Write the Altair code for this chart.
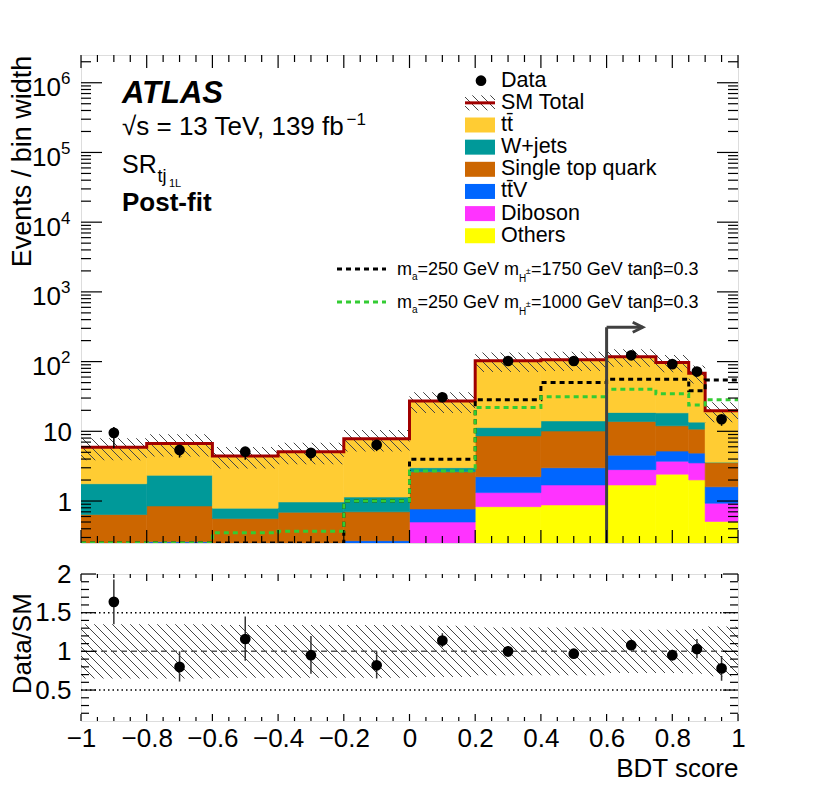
import math
import altair as alt
import pandas as pd

FONT = "Liberation Sans"

# ---------------- data ----------------
EDGES = [-1.0, -0.8, -0.6, -0.4, -0.2, 0.0, 0.2, 0.4, 0.6, 0.75, 0.85, 0.9, 1.0]
CENTERS = [-0.9, -0.7, -0.5, -0.3, -0.1, 0.1, 0.3, 0.5, 0.675, 0.8, 0.875, 0.95]

# background components (events / bin width), stacked bottom -> top
OTHERS  = [0.04, 0.05, 0.04, 0.04, 0.05, 0.15, 0.83, 0.88, 1.70, 2.43, 2.01, 0.51]
DIBOSON = [0.04, 0.05, 0.04, 0.04, 0.07, 0.35, 0.49, 0.82, 1.12, 1.29, 1.51, 0.42]
TTV     = [0.07, 0.16, 0.07, 0.07, 0.15, 0.27, 0.91, 1.30, 1.73, 1.48, 1.35, 0.67]
SINGLE  = [0.49, 0.59, 0.41, 0.54, 0.43, 1.86, 6.37, 7.10, 9.25, 6.80, 5.88, 1.95]
WJETS   = [1.13, 1.49, 0.23, 0.28, 0.44, 0.37, 2.70, 4.00, 4.80, 6.40, 2.80, 0.05]
TTBAR   = [4.13, 4.36, 3.64, 4.13, 6.66, 24.3, 91.7, 91.9, 98.4, 79.0, 54.5, 16.2]

SIG_1750 = [0.2, 0.2, 0.2, 0.2, 1.0, 3.96, 28.3, 50.0, 56.0, 56.0, 38.2, 54.5]
SIG_1000 = [0.2, 0.2, 0.35, 0.37, 1.0, 2.7, 21.9, 31.4, 40.0, 34.5, 23.9, 28.3]

DATA    = [9.5, 5.4, 5.1, 4.9, 6.4, 30.8, 102, 102, 123, 92, 72, 14.9]
DATA_LO = [5.7, 4.2, 3.9, 3.8, 5.2, 27.0, 95, 95, 115, 84, 63, 12.0]
DATA_HI = [11.5, 6.2, 5.9, 5.7, 7.4, 34.0, 108, 108, 130, 98, 79, 17.0]

REL_UNC = [0.35, 0.35, 0.34, 0.34, 0.34, 0.33, 0.31, 0.31, 0.28, 0.28, 0.29, 0.32]

RATIO    = [1.64, 0.80, 1.16, 0.95, 0.82, 1.14, 1.00, 0.97, 1.08, 0.95, 1.03, 0.78]
RATIO_LO = [1.35, 0.61, 0.88, 0.71, 0.65, 1.055, 0.93, 0.91, 1.01, 0.88, 0.91, 0.62]
RATIO_HI = [1.93, 1.00, 1.45, 1.20, 1.00, 1.235, 1.07, 1.03, 1.15, 1.02, 1.16, 0.94]

ARROW_X = [0.6, 0.71]
ARROW_Y = 311

PROCS = ["Others", "Diboson", "ttV", "Single top quark", "W+jets", "ttbar"]
PROC_VALS = [OTHERS, DIBOSON, TTV, SINGLE, WJETS, TTBAR]
PROC_COLORS = ["#ffff00", "#ff33ff", "#0066ff", "#cc6600", "#009999", "#ffcc33"]

LEGEND_LABELS = ["tt\u0304", "W+jets", "Single top quark", "tt\u0304V", "Diboson", "Others"]
LEGEND_COLORS = ["#ffcc33", "#009999", "#cc6600", "#0066ff", "#ff33ff", "#ffff00"]

X_MAJOR = [-1.0, -0.8, -0.6, -0.4, -0.2, 0.0, 0.2, 0.4, 0.6, 0.8, 1.0]

# ---------------- layout constants ----------------
W = 657
H_MAIN = 488
H_RAT = 147
Y_MIN, Y_MAX = 0.25, 2.5e6
R_MIN, R_MAX = 0.1, 2.0
TITLE_X = -50

xs = alt.Scale(domain=[-1, 1], nice=False, zero=False)
ys = alt.Scale(type="log", domain=[Y_MIN, Y_MAX], nice=False, clamp=True)
rs = alt.Scale(domain=[R_MIN, R_MAX], nice=False, zero=False)


def py_main(v):
    v = max(v, Y_MIN)
    return H_MAIN * (math.log10(Y_MAX) - math.log10(v)) / (math.log10(Y_MAX) - math.log10(Y_MIN))


def py_rat(v):
    return H_RAT * (R_MAX - v) / (R_MAX - R_MIN)


def hatch(w, h, period=9.0, lw=1.0, rgb=(70, 70, 70)):
    """diagonal '\\' hatch as a linear gradient in bounding-box units"""
    L = w + h
    k = L / (w * w + h * h)
    tr = "rgba(%d,%d,%d,0)" % rgb
    col = "rgba(%d,%d,%d,1)" % rgb
    wid = lw * math.sqrt(2)
    stops = []
    u = period / 2
    while u < L:
        a = max(0.0, (u - wid / 2) / L)
        b = min(1.0, (u + wid / 2) / L)
        stops += [(a, tr), (a, col), (b, col), (b, tr)]
        u += period
    return {"gradient": "linear", "x1": 0, "y1": 1, "x2": w * k, "y2": 1 - h * k,
            "stops": [{"offset": o, "color": c} for o, c in stops]}


AW = {" ": 278, "=": 584, ",": 278, ".": 278, "T": 611, "e": 556, "V": 667, "f": 278,
      "b": 556, "s": 500, "\u221a": 549, "G": 778, "m": 833, "a": 556, "t": 278, "n": 556,
      "\u03b2": 575, "H": 722, "\u00b1": 584, "\u2212": 584, "j": 222, "S": 667, "R": 722,
      "L": 556}


def tw(s, size):
    return sum(AW.get(c, 556) for c in s) * size / 1000.0


def txt(s, x, y, size, weight="normal", style="normal", align="left",
        baseline="alphabetic", angle=0, color="black"):
    return alt.Chart(alt.Data(values=[{"t": s}])).mark_text(
        font=FONT, fontSize=size, fontWeight=weight, fontStyle=style, align=align,
        baseline=baseline, angle=angle, color=color
    ).encode(x=alt.value(x), y=alt.value(y), text="t:N")


def rich(segs, x0, y0):
    out = []
    x = x0
    for s, size, dy, dx in segs:
        x += dx
        out.append(txt(s, x, y0 + dy, size))
        x += tw(s, size)
    return out


def yticks(vals, length, scale, axis, stroke=1.2):
    df = pd.DataFrame({"v": vals})
    base = alt.Chart(df).mark_rule(color="black", strokeWidth=stroke)
    return [
        base.encode(y=alt.Y("v:Q", scale=scale, axis=axis), x=alt.value(0), x2=alt.value(length)),
        base.encode(y=alt.Y("v:Q", scale=scale, axis=axis), x=alt.value(W), x2=alt.value(W - length)),
    ]


def xticks(vals, length, h, scale, axis, stroke=1.2):
    df = pd.DataFrame({"v": vals})
    base = alt.Chart(df).mark_rule(color="black", strokeWidth=stroke)
    return [
        base.encode(x=alt.X("v:Q", scale=scale, axis=axis), y=alt.value(h), y2=alt.value(h - length)),
        base.encode(x=alt.X("v:Q", scale=scale, axis=axis), y=alt.value(0), y2=alt.value(length)),
    ]


# ---------------- tables ----------------
rows = []
cum = [0.0] * len(CENTERS)
for name, vals in zip(PROCS, PROC_VALS):
    for i in range(len(CENTERS)):
        lo = cum[i]
        hi = cum[i] + vals[i]
        rows.append({"x0": EDGES[i], "x1": EDGES[i + 1], "lo": max(lo, 0.01), "hi": hi, "proc": name})
        cum[i] = hi
stack_df = pd.DataFrame(rows)
SM = cum[:]

sm_df = pd.DataFrame({"x": EDGES, "y": SM + [SM[-1]]})
band_lo = [s * (1 - r) for s, r in zip(SM, REL_UNC)]
band_hi = [s * (1 + r) for s, r in zip(SM, REL_UNC)]
band_df = pd.DataFrame({"x": EDGES, "lo": band_lo + [band_lo[-1]], "hi": band_hi + [band_hi[-1]]})
sig1_df = pd.DataFrame({"x": EDGES, "y": SIG_1750 + [SIG_1750[-1]]})
sig2_df = pd.DataFrame({"x": EDGES, "y": SIG_1000 + [SIG_1000[-1]]})
data_df = pd.DataFrame({"x": CENTERS, "y": DATA, "lo": DATA_LO, "hi": DATA_HI})

r_lo = [1 - r for r in REL_UNC]
r_hi = [1 + r for r in REL_UNC]
rband_df = pd.DataFrame({"x": EDGES, "lo": r_lo + [r_lo[-1]], "hi": r_hi + [r_hi[-1]]})
ratio_df = pd.DataFrame({"x": CENTERS, "y": RATIO, "lo": RATIO_LO, "hi": RATIO_HI})

main_band_h = max(py_main(v) for v in band_lo) - min(py_main(v) for v in band_hi)
rat_band_h = max(py_rat(v) for v in r_lo) - min(py_rat(v) for v in r_hi)

cs = alt.Scale(domain=PROCS, range=PROC_COLORS)

# ---------------- main panel ----------------
X = lambda f: alt.X(f, scale=xs, axis=None)
Y = lambda f: alt.Y(f, scale=ys, axis=None)

layers = []
layers.append(alt.Chart(stack_df).mark_rect(clip=True, strokeWidth=0.6).encode(
    x=X("x0:Q"), x2="x1:Q", y=Y("hi:Q"), y2="lo:Q",
    color=alt.Color("proc:N", scale=cs, legend=None),
    stroke=alt.Stroke("proc:N", scale=cs, legend=None)))
layers.append(alt.Chart(band_df).mark_area(interpolate="step-after", clip=True,
                                           fill=hatch(W, main_band_h)).encode(
    x=X("x:Q"), y=Y("lo:Q"), y2="hi:Q"))
layers.append(alt.Chart(sm_df).mark_line(interpolate="step-after", clip=True, color="#a00000",
                                         strokeWidth=3).encode(x=X("x:Q"), y=Y("y:Q")))
layers.append(alt.Chart(sig1_df).mark_line(interpolate="step-after", clip=True, color="black",
                                           strokeWidth=3, strokeDash=[5, 4]).encode(x=X("x:Q"), y=Y("y:Q")))
layers.append(alt.Chart(sig2_df).mark_line(interpolate="step-after", clip=True, color="#33cc33",
                                           strokeWidth=3, strokeDash=[5, 4]).encode(x=X("x:Q"), y=Y("y:Q")))
arrow_v = pd.DataFrame({"x": [ARROW_X[0]], "y": [Y_MIN], "y2": [ARROW_Y]})
arrow_h = pd.DataFrame({"x": [ARROW_X[0]], "x2": [ARROW_X[1]], "y": [ARROW_Y]})
arrow_p = pd.DataFrame({"x": [ARROW_X[1]], "y": [ARROW_Y]})
layers.append(alt.Chart(arrow_v).mark_rule(color="#404040", strokeWidth=3).encode(
    x=X("x:Q"), y=Y("y:Q"), y2="y2:Q"))
layers.append(alt.Chart(arrow_h).mark_rule(color="#404040", strokeWidth=3).encode(
    x=X("x:Q"), x2="x2:Q", y=Y("y:Q")))
layers.append(alt.Chart(arrow_p).mark_point(shape="M-1,-0.5L0,0L-1,0.5", filled=False, size=400,
                                            strokeWidth=3, color="#404040", opacity=1).encode(
    x=X("x:Q"), y=Y("y:Q")))
layers.append(alt.Chart(data_df).mark_rule(color="black", strokeWidth=1.5).encode(
    x=X("x:Q"), y=Y("lo:Q"), y2="hi:Q"))
layers.append(alt.Chart(data_df).mark_point(filled=True, shape="circle", size=115, color="black",
                                            opacity=1).encode(x=X("x:Q"), y=Y("y:Q")))

# ticks
y_major = [1, 10, 1e2, 1e3, 1e4, 1e5, 1e6]
y_minor = [m * 10 ** k for k in range(-1, 7) for m in range(2, 10) if Y_MIN < m * 10 ** k < Y_MAX]
x_minor = [round(-1 + 0.05 * k, 2) for k in range(41)]
x_minor = [v for v in x_minor if all(abs(v - m) > 1e-6 for m in X_MAJOR)]
layers += yticks(y_major, 21, ys, None)
layers += yticks(y_minor, 10, ys, None)
layers += xticks(X_MAJOR, 13, H_MAIN, xs, None)
layers += xticks(x_minor, 7, H_MAIN, xs, None)

# y tick labels
dec_plain = pd.DataFrame({"v": [1, 10], "t": ["1", "10"]})
dec_pow = pd.DataFrame({"v": [1e2, 1e3, 1e4, 1e5, 1e6], "b": ["10"] * 5, "e": ["2", "3", "4", "5", "6"]})
layers.append(alt.Chart(dec_plain).mark_text(font=FONT, fontSize=26, align="right", baseline="middle",
                                             dy=1.5).encode(x=alt.value(-9), y=Y("v:Q"), text="t:N"))
layers.append(alt.Chart(dec_pow).mark_text(font=FONT, fontSize=26, align="right", baseline="middle",
                                           dy=5.5).encode(x=alt.value(-20), y=Y("v:Q"), text="b:N"))
layers.append(alt.Chart(dec_pow).mark_text(font=FONT, fontSize=17, align="left", baseline="middle",
                                           dy=-3.5).encode(x=alt.value(-20), y=Y("v:Q"), text="e:N"))
layers.append(txt("Events / bin width", TITLE_X, 106.5, 27, align="center", angle=270))

# legend
rows_y = [25.7 + 22.15 * i for i in range(8)]
BX0, BX1, TX = 384, 414, 420
layers.append(alt.Chart(alt.Data(values=[{}])).mark_point(filled=True, shape="circle", size=115,
                                                         color="black", opacity=1).encode(
    x=alt.value(400), y=alt.value(rows_y[0])))
layers.append(txt("Data", TX, rows_y[0], 21.5, baseline="middle"))
layers.append(alt.Chart(alt.Data(values=[{}])).mark_rect(fill=hatch(30, 15)).encode(
    x=alt.value(BX0), x2=alt.value(BX1), y=alt.value(rows_y[1] - 7.5), y2=alt.value(rows_y[1] + 7.5)))
layers.append(alt.Chart(alt.Data(values=[{}])).mark_rule(color="#a00000", strokeWidth=3).encode(
    x=alt.value(BX0), x2=alt.value(BX1), y=alt.value(rows_y[1])))
layers.append(txt("SM Total", TX, rows_y[1], 21.5, baseline="middle"))
for lab, col, yy in zip(LEGEND_LABELS, LEGEND_COLORS, rows_y[2:]):
    layers.append(alt.Chart(alt.Data(values=[{}])).mark_rect(color=col).encode(
        x=alt.value(BX0), x2=alt.value(BX1), y=alt.value(yy - 7.5), y2=alt.value(yy + 7.5)))
    layers.append(txt(lab, TX, yy, 21.5, baseline="middle"))

for yy, col, mh in [(214, "black", "1750"), (247, "#33cc33", "1000")]:
    layers.append(alt.Chart(alt.Data(values=[{}])).mark_rule(color=col, strokeWidth=3,
                                                            strokeDash=[5, 4]).encode(
        x=alt.value(256), x2=alt.value(305), y=alt.value(yy)))
    layers += rich([("m", 18, 0, 0), ("a", 10, 5, 0), ("=250 GeV m", 18, 0, 0), ("H", 10, 7, 0),
                    ("\u00b1", 9, -1, -0.5), ("=" + mh + " GeV tan\u03b2=0.3", 18, 0, 0)], 316, yy + 6)

# ATLAS labels
layers.append(txt("ATLAS", 41, 48.3, 31, weight="bold", style="italic"))
layers += rich([("\u221as = 13 TeV, 139 fb", 26, 0, 0), ("\u22121", 17, -10, -3)], 41, 80)
layers.append(txt("SR", 41, 118.3, 25))
layers.append(txt("tj", 76.5, 126.5, 18))
layers.append(txt("1L", 88, 131.5, 11))
layers.append(txt("Post-fit", 41, 156, 26, weight="bold"))

main = alt.layer(*layers).properties(width=W, height=H_MAIN)

# ---------------- ratio panel ----------------
x_axis = alt.Axis(values=X_MAJOR, labelExpr="replace(format(datum.value, '.1~f'), '-', '\u2212')",
                  labelFont=FONT, labelFontSize=26, labelColor="black", labelPadding=4,
                  labelFlush=False, labelOverlap=False, ticks=False, tickSize=0, domain=False,
                  grid=False, title="BDT score", titleFont=FONT, titleFontSize=26,
                  titleFontWeight="normal", titleColor="black", titleAnchor="end",
                  titlePadding=4)
r_axis = alt.Axis(values=[0.5, 1, 1.5, 2], format="~g", labelFont=FONT, labelFontSize=26,
                  labelColor="black", labelPadding=10, labelFlush=False, labelOverlap=False,
                  ticks=False, tickSize=0, domain=False, grid=False, title=None)
RX = lambda f: alt.X(f, scale=xs, axis=x_axis)
RY = lambda f: alt.Y(f, scale=rs, axis=r_axis)

rl = []
rl.append(alt.Chart(rband_df).mark_area(interpolate="step-after", clip=True,
                                        fill=hatch(W, rat_band_h)).encode(
    x=RX("x:Q"), y=RY("lo:Q"), y2="hi:Q"))
rl.append(alt.Chart(pd.DataFrame({"v": [1.0]})).mark_rule(color="#555555", strokeWidth=1.5,
                                                          strokeDash=[6, 4]).encode(
    y=RY("v:Q"), x=alt.value(0), x2=alt.value(W)))
rl.append(alt.Chart(pd.DataFrame({"v": [0.5, 1.5]})).mark_rule(color="black", strokeWidth=1.5,
                                                               strokeDash=[1.5, 3]).encode(
    y=RY("v:Q"), x=alt.value(0), x2=alt.value(W)))
rl.append(alt.Chart(ratio_df).mark_rule(color="#333333", strokeWidth=1.5).encode(
    x=RX("x:Q"), y=RY("lo:Q"), y2="hi:Q"))
rl.append(alt.Chart(ratio_df).mark_point(filled=True, shape="circle", size=115, color="black",
                                         opacity=1).encode(x=RX("x:Q"), y=RY("y:Q")))
r_major = [0.5, 1.0, 1.5, 2.0]
r_minor = [round(0.2 + 0.1 * k, 1) for k in range(18)]
r_minor = [v for v in r_minor if all(abs(v - m) > 1e-6 for m in r_major)]
rl += yticks(r_major, 15, rs, r_axis)
rl += yticks(r_minor, 8, rs, r_axis)
rl += xticks(X_MAJOR, 7, H_RAT, xs, x_axis)
rl += xticks(x_minor, 4, H_RAT, xs, x_axis)
rl.append(txt("Data/SM", TITLE_X, 69.7, 26, align="center", angle=270))

ratio = alt.layer(*rl).properties(width=W, height=H_RAT)

chart = alt.vconcat(main, ratio, spacing=31, bounds="flush").properties(
    padding={"left": 0, "top": 45, "right": 5, "bottom": 5},
    background="white",
).configure_view(stroke="black", strokeWidth=2).configure(font=FONT)

chart.save("out.html", embed_options={"renderer": "svg", "actions": False})
